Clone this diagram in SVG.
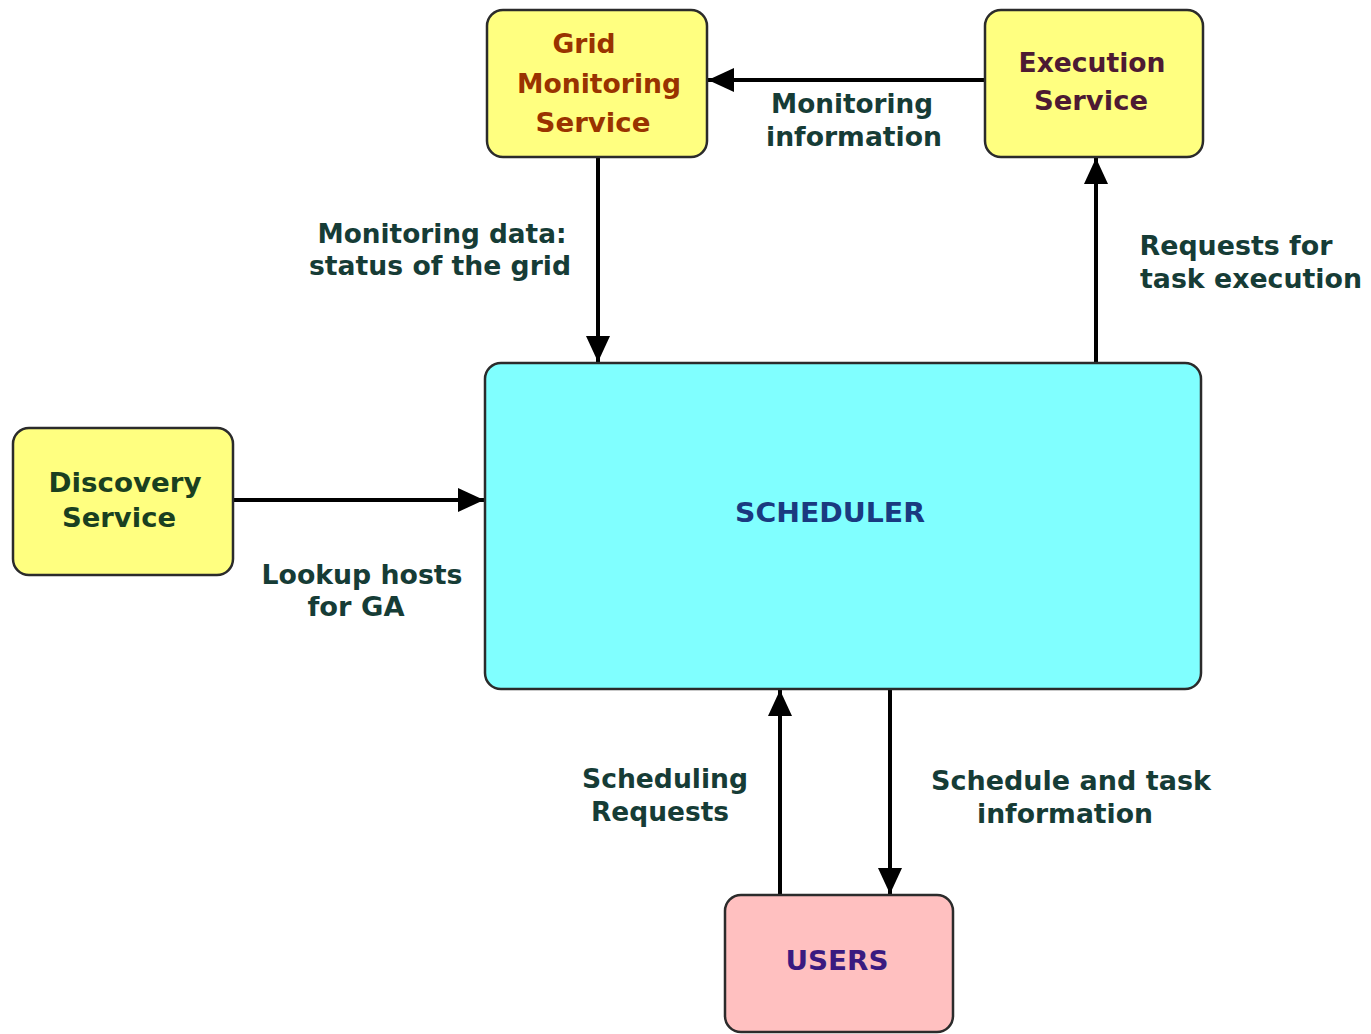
<svg xmlns="http://www.w3.org/2000/svg" width="1371" height="1034" viewBox="0 0 1371 1034">
  <defs>
    <marker id="arrow" markerUnits="userSpaceOnUse" markerWidth="28" markerHeight="26" refX="26" refY="12" orient="auto">
      <path d="M0,0 L26,12 L0,24 Z" fill="#000"/>
    </marker>
    <style>
      .box { stroke: #2b2b2b; stroke-width: 2.5; }
      .svc { fill: #ffff80; }
      .core { fill: #80ffff; }
      .user { fill: #ffc0c0; }
      text { font-family: "DejaVu Sans", Verdana, sans-serif; font-weight: bold; font-size: 26px; text-anchor: middle; }
      .lbl { fill: #163c36; }
      .edge { stroke: #000; stroke-width: 4; fill: none; marker-end: url(#arrow); }
    </style>
  </defs>

  <rect width="1371" height="1034" fill="#ffffff"/>

  <g id="connectors">
    <line class="edge" x1="985" y1="80" x2="708" y2="80"/>
    <line class="edge" x1="598" y1="157" x2="598" y2="362"/>
    <line class="edge" x1="1096" y1="363" x2="1096" y2="158"/>
    <line class="edge" x1="233" y1="500" x2="484" y2="500"/>
    <line class="edge" x1="780" y1="895" x2="780" y2="690"/>
    <line class="edge" x1="890" y1="689" x2="890" y2="894"/>
  </g>

  <g id="edge-labels" class="lbl">
    <text x="852" y="113" textLength="162" lengthAdjust="spacingAndGlyphs">Monitoring</text>
    <text x="854" y="146" textLength="176" lengthAdjust="spacingAndGlyphs">information</text>
    <text x="442" y="243" textLength="249" lengthAdjust="spacingAndGlyphs">Monitoring data:</text>
    <text x="440" y="275" textLength="262" lengthAdjust="spacingAndGlyphs">status of the grid</text>
    <text x="1236" y="255" textLength="193" lengthAdjust="spacingAndGlyphs">Requests for</text>
    <text x="1251" y="288" textLength="222" lengthAdjust="spacingAndGlyphs">task execution</text>
    <text x="362" y="584" textLength="201" lengthAdjust="spacingAndGlyphs">Lookup hosts</text>
    <text x="356" y="616" textLength="97" lengthAdjust="spacingAndGlyphs">for GA</text>
    <text x="665" y="788" textLength="166" lengthAdjust="spacingAndGlyphs">Scheduling</text>
    <text x="660" y="821" textLength="138" lengthAdjust="spacingAndGlyphs">Requests</text>
    <text x="1071" y="790" textLength="280" lengthAdjust="spacingAndGlyphs">Schedule and task</text>
    <text x="1065" y="823" textLength="176" lengthAdjust="spacingAndGlyphs">information</text>
  </g>

  <g id="grid-monitoring-service">
    <rect class="box svc" x="487" y="10" width="220" height="147" rx="16"/>
    <g fill="#993300">
      <text x="584" y="53" textLength="63" lengthAdjust="spacingAndGlyphs">Grid</text>
      <text x="599" y="93" textLength="164" lengthAdjust="spacingAndGlyphs">Monitoring</text>
      <text x="593" y="132" textLength="115" lengthAdjust="spacingAndGlyphs">Service</text>
    </g>
  </g>

  <g id="execution-service">
    <rect class="box svc" x="985" y="10" width="218" height="147" rx="16"/>
    <g fill="#4d1a33">
      <text x="1092" y="72" textLength="147" lengthAdjust="spacingAndGlyphs">Execution</text>
      <text x="1091" y="110" textLength="114" lengthAdjust="spacingAndGlyphs">Service</text>
    </g>
  </g>

  <g id="discovery-service">
    <rect class="box svc" x="13" y="428" width="220" height="147" rx="16"/>
    <g fill="#1a4020">
      <text x="125" y="492" textLength="153" lengthAdjust="spacingAndGlyphs">Discovery</text>
      <text x="119" y="527" textLength="114" lengthAdjust="spacingAndGlyphs">Service</text>
    </g>
  </g>

  <g id="scheduler">
    <rect class="box core" x="485" y="363" width="716" height="326" rx="16"/>
    <text x="830" y="522" fill="#1a3a80" textLength="190" lengthAdjust="spacingAndGlyphs">SCHEDULER</text>
  </g>

  <g id="users">
    <rect class="box user" x="725" y="895" width="228" height="137" rx="16"/>
    <text x="837" y="970" fill="#3a1a80" textLength="103" lengthAdjust="spacingAndGlyphs">USERS</text>
  </g>
</svg>
